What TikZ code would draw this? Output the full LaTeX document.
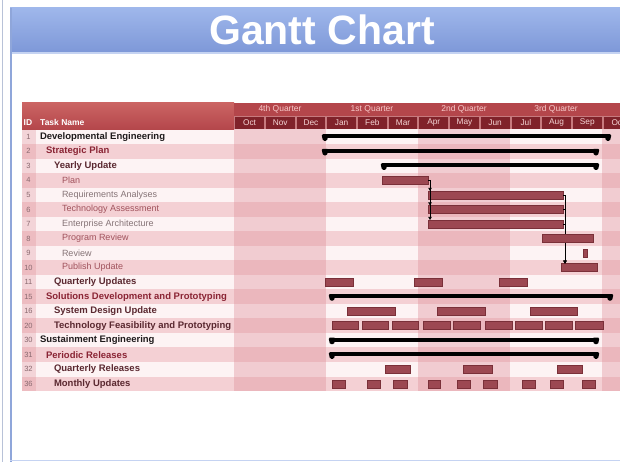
\documentclass[tikz,border=0pt]{standalone}
\usepackage{fontspec}
\setmainfont{Liberation Sans}
\usetikzlibrary{arrows.meta}

\definecolor{bantop}{HTML}{9FB7EB}
\definecolor{banbot}{HTML}{7E98D8}
\definecolor{banline}{HTML}{C5D3F2}
\definecolor{leftrule}{HTML}{B8C2D8}
\definecolor{frame}{HTML}{8FA6DA}
\definecolor{hdrtop}{HTML}{CB6463}
\definecolor{hdrbot}{HTML}{B4464B}
\definecolor{qrow}{HTML}{B4464B}
\definecolor{mrow}{HTML}{C77A7E}
\definecolor{mcell}{HTML}{80222A}
\definecolor{mtext}{HTML}{F5D5D5}
\definecolor{qtext}{HTML}{F7C9C9}
\definecolor{rowpink}{HTML}{F4D0D4}
\definecolor{rowlight}{HTML}{FDF3F4}
\definecolor{band}{HTML}{DE8F98}
\definecolor{barfill}{HTML}{9C4852}
\definecolor{barline}{HTML}{7A3039}
\definecolor{lvAc}{HTML}{1E1A1B}
\definecolor{lvBc}{HTML}{8A2434}
\definecolor{lvCc}{HTML}{5A2830}
\definecolor{lvDc}{HTML}{A0525C}
\definecolor{lvEc}{HTML}{857376}
\definecolor{idc}{HTML}{8A6A70}

% row k has its centre at 136.8 + 14.53 (k-1)
\newcommand{\taskbar}[4]{%
  \node[taskbar, anchor=west, minimum width={(#4)-(#3)}] (#1)
    at (#3,{136.8+14.53*((#2)-1)}) {};}
\newcommand{\sumbar}[4]{%
  \node[sumbar, anchor=west, minimum width={(#4)-(#3)}] (#1)
    at (#3,{136.8+14.53*((#2)-1)-0.5}) {};
  \fill[black, rounded corners=1.2pt] ([xshift=-1.5pt]#1.north west) -- ++(7,0)
    -- ++(-1.5,6.5) -- ++(-4,0) -- cycle;
  \fill[black, rounded corners=1.2pt] ([xshift=1.5pt]#1.north east) -- ++(-7,0)
    -- ++(1.5,6.5) -- ++(4,0) -- cycle;}

\begin{document}
\begin{tikzpicture}[x=1pt,y=-1pt,
  lbl/.style={inner sep=0pt, outer sep=0pt, anchor=west},
  lvA/.style={lbl, font=\fontsize{9.5}{10}\selectfont\bfseries, text=lvAc},
  lvB/.style={lbl, font=\fontsize{9.5}{10}\selectfont\bfseries, text=lvBc},
  lvC/.style={lbl, font=\fontsize{9.5}{10}\selectfont\bfseries, text=lvCc},
  lvD/.style={lbl, font=\fontsize{9}{10}\selectfont, text=lvDc},
  lvE/.style={lbl, font=\fontsize{9}{10}\selectfont, text=lvEc},
  idnum/.style={inner sep=0pt, font=\fontsize{7.5}{8}\selectfont, text=idc},
  hdrtext/.style={inner sep=0pt, anchor=west, font=\fontsize{8.5}{9}\selectfont\bfseries, text=white},
  qlabel/.style={inner sep=0pt, font=\fontsize{8.5}{9}\selectfont, text=qtext},
  monthcell/.style={fill=mcell, inner sep=0pt, minimum height=12pt, minimum width=28.7pt,
    anchor=west, font=\fontsize{8.3}{9}\selectfont, text=mtext},
  taskbar/.style={draw=barline, fill=barfill, line width=0.4pt, minimum height=8pt,
    inner sep=0pt, outer sep=0pt},
  sumbar/.style={fill=black, minimum height=4pt, inner sep=0pt, outer sep=0pt},
  dep/.style={draw=black, line width=0.7pt, -{Triangle[length=3pt,width=3.4pt]}},
]
\useasboundingbox (0,0) rectangle (620,462);
\fill[white] (0,0) rectangle (620,462);

% page frame and title banner
\draw[line width=1pt, leftrule] (2.5,0) -- (2.5,462);
\shade[top color=bantop, bottom color=banbot] (10,8) rectangle (620,52);
\fill[banline] (10,52) rectangle (620,54.5);
\draw[line width=2.5pt, frame] (11.2,8) -- (11.2,462);
\draw[line width=1pt, banline] (10,460.5) -- (620,460.5);
\node[font=\fontsize{41}{41}\selectfont\bfseries, text=white, inner sep=0pt] (title) at (322,30) {Gantt Chart};

% table rows
\foreach \k in {1,...,18} {
  \pgfmathsetmacro\rtop{129.5+14.53*(\k-1)}
  \pgfmathsetmacro\rbot{\rtop+14.53}
  \ifodd\k
    \fill[rowlight] (22,\rtop) rectangle (620,\rbot);
  \else
    \fill[rowpink] (22,\rtop) rectangle (620,\rbot);
  \fi
}
% shaded quarters and ID column
\fill[band, opacity=.38] (234,129.5) rectangle (326.1,391);
\fill[band, opacity=.38] (418.2,129.5) rectangle (510.3,391);
\fill[band, opacity=.38] (602.4,129.5) rectangle (620,391);
\fill[band, opacity=.3] (22,129.5) rectangle (36,391);

% header
\shade[top color=hdrtop, bottom color=hdrbot] (22,103) rectangle (234,129.5);
\fill[qrow] (234,103) rectangle (620,115.8);
\fill[mrow] (234,115.8) rectangle (620,129.5);
\node[hdrtext] (hid) at (23.5,122.5) {ID};
\node[hdrtext] (hname) at (40,122.5) {Task Name};
\node[qlabel] (q4) at (280,109.5) {4th Quarter};
\node[qlabel] (q1) at (372,109.5) {1st Quarter};
\node[qlabel] (q2) at (464,109.5) {2nd Quarter};
\node[qlabel] (q3) at (556,109.5) {3rd Quarter};
\foreach \m [count=\i from 0] in {Oct,Nov,Dec,Jan,Feb,Mar,Apr,May,Jun,Jul,Aug,Sep,Oct} {
  \pgfmathsetmacro\xa{234+30.7*\i+1}
  \node[monthcell] (mon\i) at (\xa,122.6) {\m};
}

% task list
\foreach \id/\name/\ind/\sty [count=\k] in {
  1/Developmental Engineering/40/lvA,
  2/Strategic Plan/46/lvB,
  3/Yearly Update/54/lvC,
  4/Plan/62/lvD,
  5/Requirements Analyses/62/lvE,
  6/Technology Assessment/62/lvD,
  7/Enterprise Architecture/62/lvE,
  8/Program Review/62/lvD,
  9/Review/62/lvE,
  10/Publish Update/62/lvD,
  11/Quarterly Updates/54/lvC,
  15/Solutions Development and Prototyping/46/lvB,
  16/System Design Update/54/lvC,
  20/Technology Feasibility and Prototyping/54/lvC,
  30/Sustainment Engineering/40/lvA,
  31/Periodic Releases/46/lvB,
  32/Quarterly Releases/54/lvC,
  36/Monthly Updates/54/lvC} {
  \pgfmathsetmacro\yc{136.8+14.53*(\k-1)}
  \node[idnum] (id\k) at (28.5,\yc) {\id};
  \node[\sty] (task\k) at (\ind,\yc) {\name};
}

% summary bars
\sumbar{devsum}{1}{323}{610}
\sumbar{stratsum}{2}{323}{598}
\sumbar{yearsum}{3}{382}{598}
\sumbar{solsum}{12}{330}{612}
\sumbar{sussum}{15}{330}{598}
\sumbar{persum}{16}{330}{598}

% yearly update tasks
\taskbar{plan}{4}{382}{428}
\taskbar{reqa}{5}{428}{563}
\taskbar{tech}{6}{428}{563}
\taskbar{ent}{7}{428}{563}
\taskbar{rev}{9}{583}{587}
\taskbar{pub}{10}{561}{597}

% finish-to-start links
\draw[dep] (plan.east) -| ([xshift=2pt]reqa.north west);
\draw[dep] (plan.east) -| ([xshift=2pt]tech.north west);
\draw[dep] (plan.east) -| ([xshift=2pt]ent.north west);
\draw[dep] (reqa.east) -| ([xshift=4pt]pub.north west);
\draw[dep] (tech.east) -| ([xshift=4pt]pub.north west);
\draw[dep] (ent.east) -| ([xshift=4pt]pub.north west);

\taskbar{prog}{8}{542}{593}

% recurring tasks
\foreach \a/\b [count=\n] in {325/353,414/442,499/527}
  {\taskbar{qu\n}{11}{\a}{\b}}
\foreach \a/\b [count=\n] in {347/395,437/485,530/577}
  {\taskbar{sd\n}{13}{\a}{\b}}
\foreach \a/\b [count=\n] in {332/358,362/388,392/418,423/450,453/480,485/512,515/542,545/572,575/603}
  {\taskbar{tf\n}{14}{\a}{\b}}
\foreach \a/\b [count=\n] in {385/410,463/492,557/582}
  {\taskbar{qr\n}{17}{\a}{\b}}
\foreach \a/\b [count=\n] in {332/345,367/380,393/407,428/440,457/470,483/497,522/535,550/563,582/595}
  {\taskbar{mu\n}{18}{\a}{\b}}
\end{tikzpicture}
\end{document}
